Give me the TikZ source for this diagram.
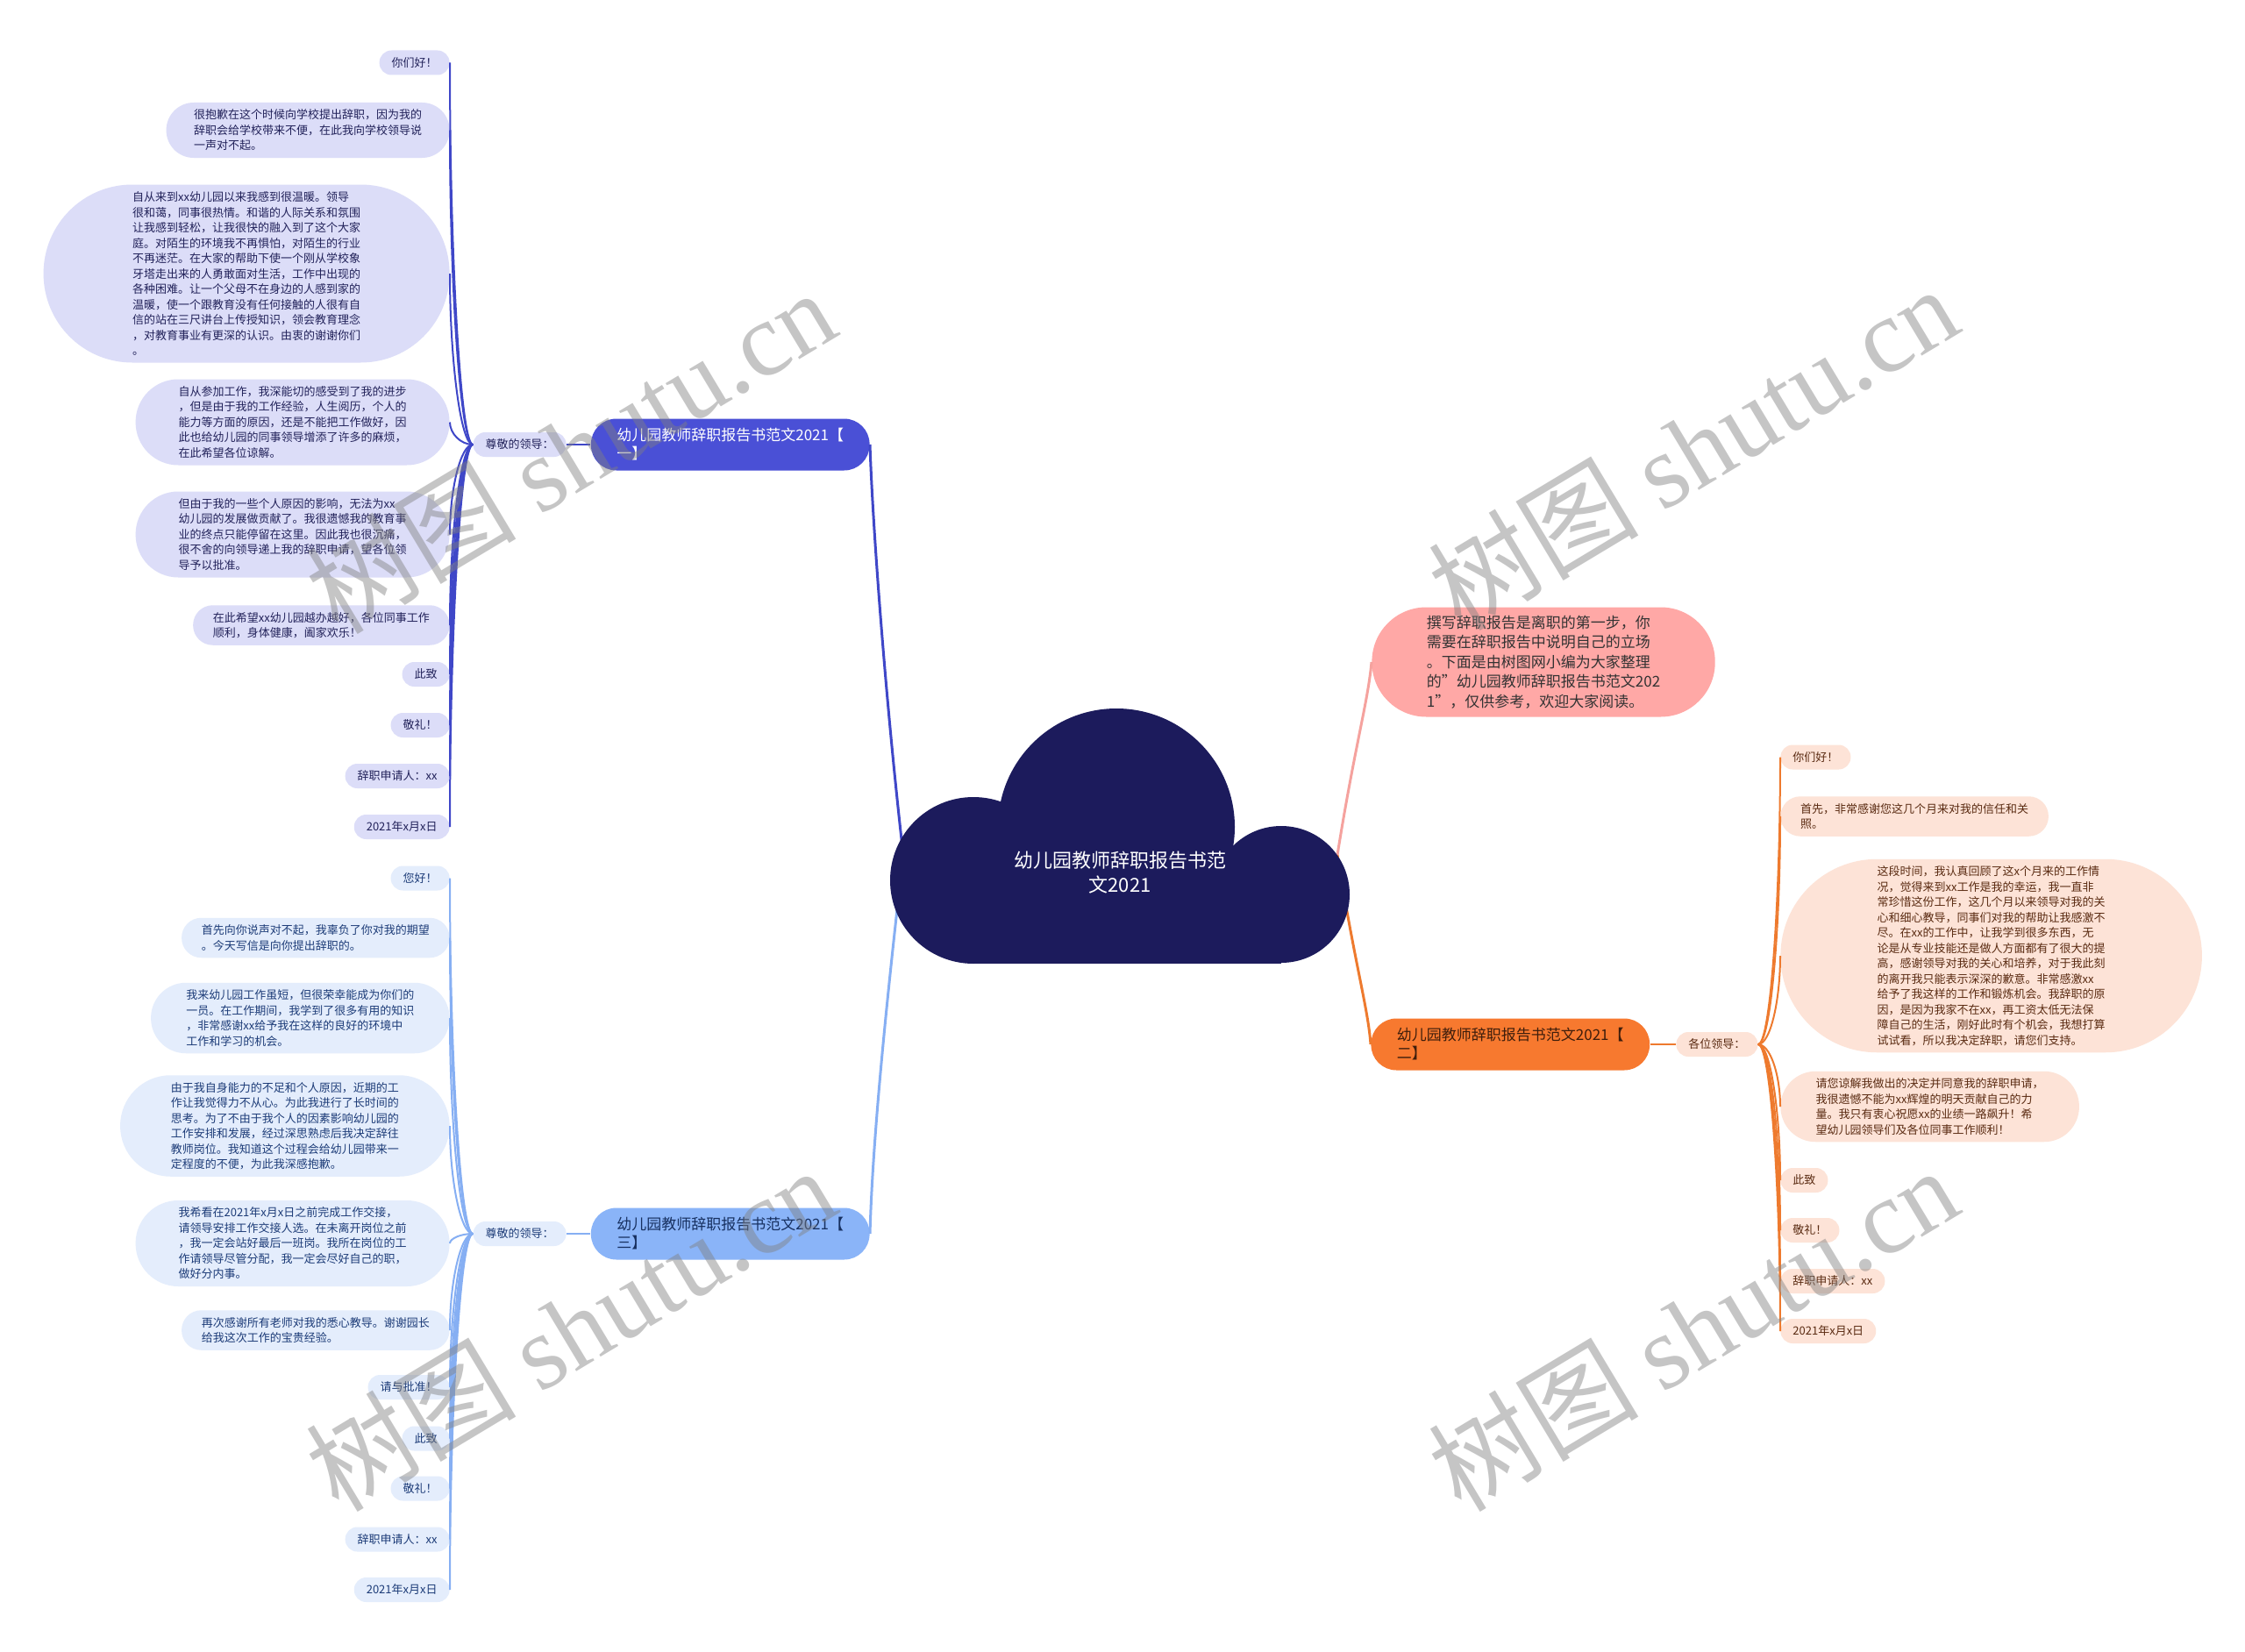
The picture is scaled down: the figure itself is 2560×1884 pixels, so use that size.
\documentclass[tikz,border=0pt]{standalone}
\usepackage{fontspec}
\setmainfont{Noto Sans CJK SC}
\newfontfamily\wmserif{Liberation Serif}
\usepackage{tikz}
\usetikzlibrary{calc}
\definecolor{cloudnavy}{HTML}{1C1B5C}
\definecolor{oneblue}{HTML}{4A50D6}
\definecolor{oneline}{HTML}{3F47C8}
\definecolor{onelight}{HTML}{DCDDF8}
\definecolor{onetext}{HTML}{22225A}
\definecolor{threeblue}{HTML}{8AB4F8}
\definecolor{threeline}{HTML}{86AFF3}
\definecolor{threelight}{HTML}{E4EDFC}
\definecolor{threetext}{HTML}{1D3C78}
\definecolor{twoorange}{HTML}{F7792F}
\definecolor{twoline}{HTML}{EE7A2E}
\definecolor{twolight}{HTML}{FDE3D7}
\definecolor{twotext}{HTML}{5A2B12}
\definecolor{pinkfill}{HTML}{FFA8A6}
\definecolor{pinkline}{HTML}{F5A29E}
\newcommand{\leaffont}{\fontsize{6.5pt}{8.75pt}\selectfont}
\newcommand{\topicfont}{\fontsize{8.5pt}{10.5pt}\selectfont}

\begin{document}
\begin{tikzpicture}[x=0.5pt,y=-0.5pt,
  nl/.style={minimum height=8.75pt*#1+5.25pt,rounded corners=4.375pt*#1+2.5pt,inner xsep=4.375pt*#1+2.625pt},
  leafbase/.style={rectangle,align=left,inner ysep=3pt,font=\leaffont,nl=1},
  leafone/.style={leafbase,fill=onelight,text=onetext,anchor=east},
  leafthree/.style={leafbase,fill=threelight,text=threetext,anchor=east},
  leaftwo/.style={leafbase,fill=twolight,text=twotext,anchor=west},
  topic/.style={rectangle,align=left,inner ysep=3pt,font=\topicfont,minimum height=29.5pt,rounded corners=14.5pt,inner xsep=14.75pt},
  twig/.style={line width=1pt},
  limb/.style={line width=1.5pt},
  wmark/.style={rotate=31,text=black!50,text opacity=0.45,font=\fontsize{60pt}{60pt}\selectfont}]
  \useasboundingbox[fill=white] (0,0) rectangle (2560,1884);
  % Hauptzweige
  \coordinate (cloudW) at (1030,975);
  \coordinate (cloudE) at (1525,975);
  \node[topic,fill=oneblue,text=white,anchor=east] (n1) at (992,507) {幼儿园教师辞职报告书范文2021【\\一】};
  \node[topic,fill=threeblue,text=threetext!80!black,anchor=east] (n3) at (992,1407) {幼儿园教师辞职报告书范文2021【\\三】};
  \node[topic,fill=twoorange,text=twotext!70!black,anchor=west] (n2) at (1563,1191) {幼儿园教师辞职报告书范文2021【\\二】};
  \node[topic,fill=pinkfill,text=black!80,anchor=west,font=\fontsize{8.5pt}{11.25pt}\selectfont,minimum height=62.5pt,rounded corners=31pt,inner xsep=31.25pt] (intro) at (1564,755)
    {撰写辞职报告是离职的第一步，你\\需要在辞职报告中说明自己的立场\\。下面是由树图网小编为大家整理\\的"幼儿园教师辞职报告书范文202\\1"，仅供参考，欢迎大家阅读。};
  \draw[limb,oneline] (cloudW) .. controls (1010,800) and (995,600) .. (n1.east);
  \draw[limb,threeline] (cloudW) .. controls (1010,1150) and (995,1300) .. (n3.east);
  \draw[limb,twoline] (cloudE) .. controls (1545,1100) and (1560,1150) .. (n2.west);
  \draw[limb,pinkline] (cloudE) .. controls (1545,850) and (1560,800) .. (intro.west);
  % Wolke
  \fill[cloudnavy] (1273,943) circle[radius=135];
  \fill[cloudnavy] (1110,1004) circle[radius=95];
  \fill[cloudnavy] (1461,1020) circle[radius=78];
  \fill[cloudnavy] (1110,1004) rectangle (1461,1099);
  \node[text=white,align=center,font=\fontsize{11pt}{14pt}\selectfont] (root) at (1277,995) {幼儿园教师辞职报告书范\\文2021};
  % Zweig 1
  \node[leafone] (lab1) at (646,507) {尊敬的领导：};
  \draw[twig,oneline] (lab1.east) -- (n1.west);
  \node[leafone] (L1a) at (513,71.5) {你们好！};
  \node[leafone,nl=3] (L1b) at (513,148.5) {很抱歉在这个时候向学校提出辞职，因为我的\\辞职会给学校带来不便，在此我向学校领导说\\一声对不起。};
  \node[leafone,nl=11] (L1c) at (513,312) {自从来到xx幼儿园以来我感到很温暖。领导\\很和蔼，同事很热情。和谐的人际关系和氛围\\让我感到轻松，让我很快的融入到了这个大家\\庭。对陌生的环境我不再惧怕，对陌生的行业\\不再迷茫。在大家的帮助下使一个刚从学校象\\牙塔走出来的人勇敢面对生活，工作中出现的\\各种困难。让一个父母不在身边的人感到家的\\温暖，使一个跟教育没有任何接触的人很有自\\信的站在三尺讲台上传授知识，领会教育理念\\，对教育事业有更深的认识。由衷的谢谢你们\\。};
  \node[leafone,nl=5] (L1d) at (513,481.5) {自从参加工作，我深能切的感受到了我的进步\\，但是由于我的工作经验，人生阅历，个人的\\能力等方面的原因，还是不能把工作做好，因\\此也给幼儿园的同事领导增添了许多的麻烦，\\在此希望各位谅解。};
  \node[leafone,nl=5] (L1e) at (513,609.5) {但由于我的一些个人原因的影响，无法为xx\\幼儿园的发展做贡献了。我很遗憾我的教育事\\业的终点只能停留在这里。因此我也很沉痛，\\很不舍的向领导递上我的辞职申请，望各位领\\导予以批准。};
  \node[leafone,nl=2] (L1f) at (513,713) {在此希望xx幼儿园越办越好，各位同事工作\\顺利，身体健康，阖家欢乐！};
  \node[leafone] (L1g) at (513,769) {此致};
  \node[leafone] (L1h) at (513,827) {敬礼！};
  \node[leafone] (L1i) at (513,885) {辞职申请人：xx};
  \node[leafone] (L1j) at (513,943) {2021年x月x日};
  \foreach \n in {L1a,L1b,L1c,L1d,L1e,L1f,L1g,L1h,L1i,L1j}
    \draw[twig,oneline] (lab1.west) .. controls +(-14,0) and ($(\n.east)!0.5!(\n.east |- lab1.west)$) .. (\n.east);
  % Zweig 3
  \node[leafthree] (lab3) at (646,1407) {尊敬的领导：};
  \draw[twig,threeline] (lab3.east) -- (n3.west);
  \node[leafthree] (L3a) at (513,1001.5) {您好！};
  \node[leafthree,nl=2] (L3b) at (513,1069.5) {首先向你说声对不起，我辜负了你对我的期望\\。今天写信是向你提出辞职的。};
  \node[leafthree,nl=4] (L3c) at (513,1161) {我来幼儿园工作虽短，但很荣幸能成为你们的\\一员。在工作期间，我学到了很多有用的知识\\，非常感谢xx给予我在这样的良好的环境中\\工作和学习的机会。};
  \node[leafthree,nl=6] (L3d) at (513,1284) {由于我自身能力的不足和个人原因，近期的工\\作让我觉得力不从心。为此我进行了长时间的\\思考。为了不由于我个人的因素影响幼儿园的\\工作安排和发展，经过深思熟虑后我决定辞往\\教师岗位。我知道这个过程会给幼儿园带来一\\定程度的不便，为此我深感抱歉。};
  \node[leafthree,nl=5] (L3e) at (513,1418) {我希看在2021年x月x日之前完成工作交接，\\请领导安排工作交接人选。在未离开岗位之前\\，我一定会站好最后一班岗。我所在岗位的工\\作请领导尽管分配，我一定会尽好自己的职，\\做好分内事。};
  \node[leafthree,nl=2] (L3f) at (513,1517) {再次感谢所有老师对我的悉心教导。谢谢园长\\给我这次工作的宝贵经验。};
  \node[leafthree] (L3g) at (513,1582) {请与批准！};
  \node[leafthree] (L3h) at (513,1640.5) {此致};
  \node[leafthree] (L3i) at (513,1697.5) {敬礼！};
  \node[leafthree] (L3j) at (513,1755.5) {辞职申请人：xx};
  \node[leafthree] (L3k) at (513,1813) {2021年x月x日};
  \foreach \n in {L3a,L3b,L3c,L3d,L3e,L3f,L3g,L3h,L3i,L3j,L3k}
    \draw[twig,threeline] (lab3.west) .. controls +(-14,0) and ($(\n.east)!0.5!(\n.east |- lab3.west)$) .. (\n.east);
  % Zweig 2
  \node[leaftwo] (lab2) at (1911,1191) {各位领导：};
  \draw[twig,twoline] (n2.east) -- (lab2.west);
  \node[leaftwo] (L2a) at (2030,863.5) {你们好！};
  \node[leaftwo,nl=2] (L2b) at (2030,931) {首先，非常感谢您这几个月来对我的信任和关\\照。};
  \node[leaftwo,nl=12] (L2c) at (2030,1090) {这段时间，我认真回顾了这x个月来的工作情\\况，觉得来到xx工作是我的幸运，我一直非\\常珍惜这份工作，这几个月以来领导对我的关\\心和细心教导，同事们对我的帮助让我感激不\\尽。在xx的工作中，让我学到很多东西，无\\论是从专业技能还是做人方面都有了很大的提\\高，感谢领导对我的关心和培养，对于我此刻\\的离开我只能表示深深的歉意。非常感激xx\\给予了我这样的工作和锻炼机会。我辞职的原\\因，是因为我家不在xx，再工资太低无法保\\障自己的生活，刚好此时有个机会，我想打算\\试试看，所以我决定辞职，请您们支持。};
  \node[leaftwo,nl=4] (L2d) at (2030,1262) {请您谅解我做出的决定并同意我的辞职申请，\\我很遗憾不能为xx辉煌的明天贡献自己的力\\量。我只有衷心祝愿xx的业绩一路飙升！希\\望幼儿园领导们及各位同事工作顺利！};
  \node[leaftwo] (L2e) at (2030,1346) {此致};
  \node[leaftwo] (L2f) at (2030,1403) {敬礼！};
  \node[leaftwo] (L2g) at (2030,1461) {辞职申请人：xx};
  \node[leaftwo] (L2h) at (2030,1518) {2021年x月x日};
  \foreach \n in {L2a,L2b,L2c,L2d,L2e,L2f,L2g,L2h}
    \draw[twig,twoline] (lab2.east) .. controls +(14,0) and ($(\n.west)!0.5!(\n.west |- lab2.east)$) .. (\n.west);
  % Wasserzeichen
  \node[wmark] (wm1) at (650,514) {树图 {\wmserif shutu.cn}};
  \node[wmark] (wm2) at (1930,510) {树图 {\wmserif shutu.cn}};
  \node[wmark] (wm3) at (650,1515) {树图 {\wmserif shutu.cn}};
  \node[wmark] (wm4) at (1930,1515) {树图 {\wmserif shutu.cn}};
\end{tikzpicture}
\end{document}
